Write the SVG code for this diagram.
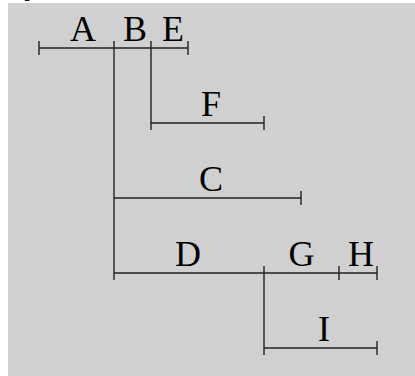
<svg xmlns="http://www.w3.org/2000/svg" width="415" height="376" viewBox="0 0 415 376">
<style>
.bg{fill:#d0d0d0}
.ln{stroke:#222;stroke-width:1.4;fill:none}
.lb{font-family:"Liberation Serif","Times New Roman",serif;font-size:36px;fill:#000;text-anchor:middle}
</style>
<rect width="415" height="376" fill="#fff"/>
<rect class="bg" x="8" y="3" width="407" height="373"/>
<text class="lb" x="33" y="-7">y</text>
<g id="connectors">
<path class="ln" d="M114 41V280M151 41V130M264 266V355"/>
</g>
<g id="A"><path class="ln" d="M39 48H114M39 41V55"/><text class="lb" x="83" y="41">A</text></g>
<g id="B"><path class="ln" d="M114 48H151"/><text class="lb" x="135" y="41">B</text></g>
<g id="E"><path class="ln" d="M151 48H188M188 41V55"/><text class="lb" x="173" y="41">E</text></g>
<g id="F"><path class="ln" d="M151 123H264M264 116V130"/><text class="lb" x="211" y="116">F</text></g>
<g id="C"><path class="ln" d="M114 198H301M301 191V205"/><text class="lb" x="211" y="191">C</text></g>
<g id="D"><path class="ln" d="M114 273H264"/><text class="lb" x="188" y="266">D</text></g>
<g id="G"><path class="ln" d="M264 273H339M339 266V280"/><text class="lb" x="301.5" y="266">G</text></g>
<g id="H"><path class="ln" d="M339 273H377M377 266V280"/><text class="lb" x="361" y="266">H</text></g>
<g id="I"><path class="ln" d="M264 348H377M377 341V355"/><text class="lb" x="324" y="341">I</text></g>
</svg>
